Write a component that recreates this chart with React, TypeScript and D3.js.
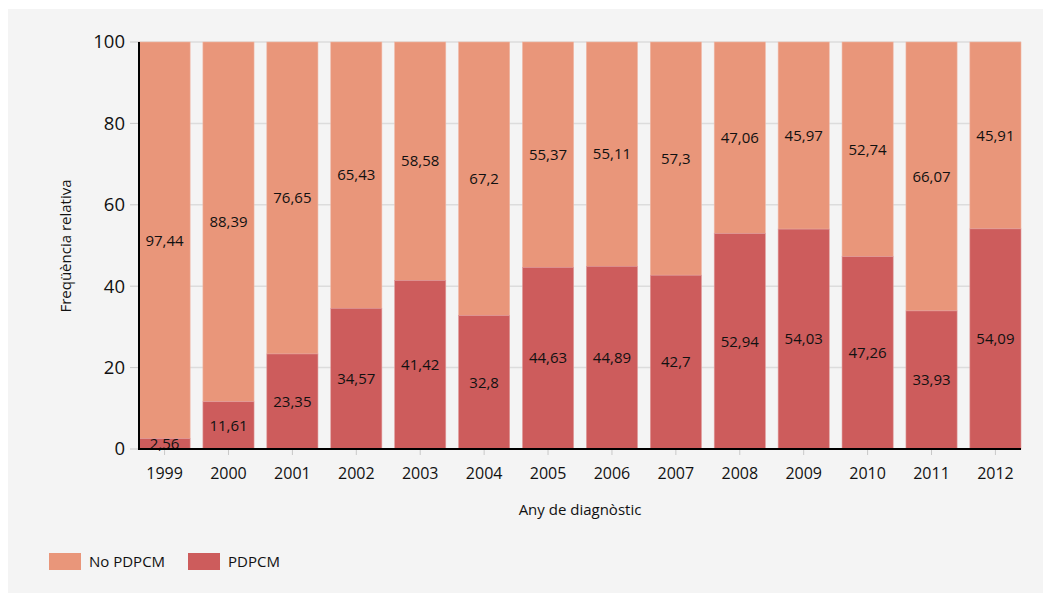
import React from "react";
import * as d3 from "d3";

const years = ["1999","2000","2001","2002","2003","2004","2005","2006","2007","2008","2009","2010","2011","2012"];
const pdpcm = [2.56, 11.61, 23.35, 34.57, 41.42, 32.8, 44.63, 44.89, 42.7, 52.94, 54.03, 47.26, 33.93, 54.09];
const noPdpcm = [97.44, 88.39, 76.65, 65.43, 58.58, 67.2, 55.37, 55.11, 57.3, 47.06, 45.97, 52.74, 66.07, 45.91];
const yTicks = [0, 20, 40, 60, 80, 100];
const seriesNames = ["No PDPCM", "PDPCM"];
const seriesColors = ["#E9967A", "#CD5C5C"];

const W = 1043, H = 595;
const FONT = "'Open Sans', 'Noto Sans', sans-serif";

export default function App() {
  const x = d3.scaleBand<string>().domain(years).range([139, 1021]).paddingInner(0.2).paddingOuter(0);
  const y = d3.scaleLinear().domain([0, 100]).range([449, 42]);
  const fmt = (v: number) => String(v).replace(".", ",");
  const legendX = [49, 188];

  return (
    <svg width={W} height={H} style={{ position: "absolute", left: 0, top: 0, fontFamily: FONT }}>
      <rect x={0} y={0} width={W} height={H} fill="#ffffff" />
      <rect x={8} y={9} width={W - 8} height={584} fill="#f4f4f4" />
      {yTicks.map((t) => (
        <g key={t}>
          {t > 0 && <line x1={139} x2={1021} y1={y(t)} y2={y(t)} stroke="#dcdcdc" strokeWidth={1.5} />}
          <line x1={130} x2={139} y1={y(t)} y2={y(t)} stroke="#c8c8c8" strokeWidth={1} />
          <text x={125} y={y(t)} dy="0.35em" textAnchor="end" fontSize={18.5} fill="#111">{t}</text>
        </g>
      ))}
      {years.map((yr, i) => {
        const x0 = x(yr)!;
        const bw = x.bandwidth();
        const p = pdpcm[i];
        const n = noPdpcm[i];
        return (
          <g key={yr}>
            <rect x={x0} y={y(p + n)} width={bw} height={y(p) - y(p + n)} fill={seriesColors[0]} stroke="#f0b8a6" strokeWidth={0.6} />
            <rect x={x0} y={y(p)} width={bw} height={y(0) - y(p)} fill={seriesColors[1]} stroke="#e09a9a" strokeWidth={0.6} />
            <text x={x0 + bw / 2} y={y(p + n / 2)} dy="0.35em" textAnchor="middle" fontSize={15} fill="#111">{fmt(n)}</text>
            <text x={x0 + bw / 2} y={y(p / 2)} dy="0.35em" textAnchor="middle" fontSize={15} fill="#111">{fmt(p)}</text>
            <line x1={x0 + bw / 2} x2={x0 + bw / 2} y1={449} y2={455} stroke="#c8c8c8" strokeWidth={1} />
            <text x={x0 + bw / 2} y={473} dy="0.35em" textAnchor="middle" fontSize={16} fill="#111">{yr}</text>
          </g>
        );
      })}
      <line x1={139} x2={139} y1={42} y2={450} stroke="#000" strokeWidth={2} />
      <line x1={138} x2={1021} y1={449} y2={449} stroke="#000" strokeWidth={2} />
      <text x={580} y={510} dy="0.35em" textAnchor="middle" fontSize={15} fill="#111">Any de diagnòstic</text>
      <text transform={`translate(66,246) rotate(-90)`} dy="0.35em" textAnchor="middle" fontSize={15} fill="#111">Freqüència relativa</text>
      {seriesNames.map((s, i) => (
        <g key={s}>
          <rect x={legendX[i]} y={553} width={32} height={17} fill={seriesColors[i]} />
          <text x={legendX[i] + 40} y={561.5} dy="0.35em" fontSize={15} fill="#111">{s}</text>
        </g>
      ))}
    </svg>
  );
}
